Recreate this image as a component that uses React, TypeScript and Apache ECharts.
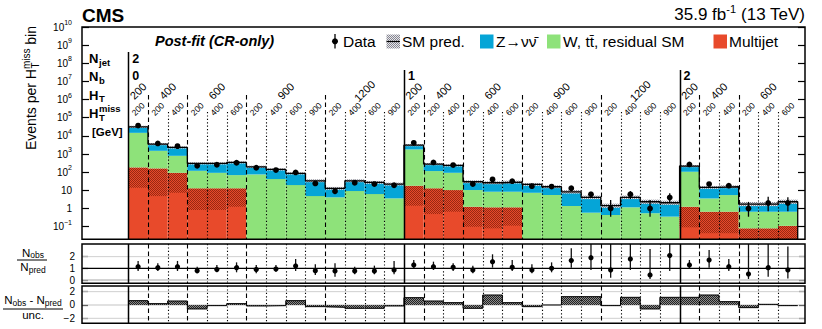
import { useEffect, useRef } from 'react';
import * as echarts from 'echarts';

const FONT = '"Liberation Sans", Arial, Helvetica, sans-serif';

// ---------- layout (pixels) ----------
const PLOT_L = 82, PLOT_R = 805;
const MAIN_T = 27, MAIN_B = 239.3;
const RAT_T = 244, RAT_B = 283.3;
const PULL_T = 286, PULL_B = 323.3;

// ---------- axis ranges ----------
const X_MIN = -2.35, X_MAX = 34.37;
const LOG_MIN = -1.7, LOG_MAX = 10;
const R_MIN = -0.28, R_MAX = 3.08;
const P_MIN = -2.75, P_MAX = 2.85;

const C_MJ = '#e84a2b', C_W = '#8ee27a', C_Z = '#05a5d7';

// ---------- categories ----------
const njetLabels = ['2'];
const njetStartBin = [0];
const nbLabels = ['0', '1', '2'];
const nbStartBin = [0, 14, 28];
const htLabels = ['200', '400', '600', '900', '1200', '200', '400', '600', '900', '1200', '200', '400', '600'];
const htStartBin = [0, 1, 3, 6, 10, 14, 15, 17, 20, 24, 28, 29, 31];
const htEndBin = [1, 3, 6, 10, 14, 15, 17, 20, 24, 28, 29, 31, 34];
const mhtLabels = [
  '200', '200', '400', '200', '400', '600', '200', '400', '600', '900', '200', '400', '600', '900',
  '200', '200', '400', '200', '400', '600', '200', '400', '600', '900', '200', '400', '600', '900',
  '200', '200', '400', '200', '400', '600',
];
const mainTickLog = [-1, 0, 1, 2, 3, 4, 5, 6, 7, 8, 9, 10];
const ratioTicks = [0, 1, 2];
const pullTicks = [-2, 0, 2];

// ---------- series values ----------
const multijet = [183, 161, 92, 12.8, 12.8, 12.8, 0.005, 0.005, 0.005, 0.005, 0.005, 0.005, 0.005, 0.005,
  17.8, 12.8, 10.3, 1.24, 1.15, 1.15, 0.005, 0.005, 0.005, 0.005, 0.005, 0.005, 0.005, 0.005,
  1.24, 0.66, 0.66, 0.08, 0.08, 0.11];
const multijetBandLow = [13.8, 4.8, 7.3, 0.82, 0.82, 1.24, 0.005, 0.005, 0.005, 0.005, 0.005, 0.005, 0.005, 0.005,
  1.41, 0.49, 0.66, 0.098, 0.08, 0.112, 0.005, 0.005, 0.005, 0.005, 0.005, 0.005, 0.005, 0.005,
  0.091, 0.043, 0.043, 0.01, 0.01, 0.01];
const residualSM = [14500, 1340, 704, 106, 79, 56, 75, 41.6, 19.4, 4.8, 4.1, 9.1, 6.2, 3.6,
  1770, 102, 82, 9.1, 7.2, 7.2, 7.3, 5.5, 1.36, 0.58, 0.43, 1.15, 0.54, 0.35,
  104, 2.9, 4.8, 0.58, 0.58, 0.55];
const zinv = [16700, 2010, 1510, 185, 212, 276, 123, 100, 66, 28.7, 8.7, 24.4, 21.2, 18.4,
  1300, 163, 144, 19.2, 17.7, 20.1, 13.9, 10.2, 6.9, 3.5, 0.98, 2.95, 1.8, 1.71,
  111, 10.9, 10.2, 1.09, 1.09, 1.68];
const predUnc = [0.15, 0.15, 0.15, 0.15, 0.15, 0.15, 0.15, 0.15, 0.15, 0.2, 0.2, 0.2, 0.2, 0.2,
  0.15, 0.15, 0.15, 0.2, 0.2, 0.2, 0.2, 0.2, 0.25, 0.25, 0.3, 0.25, 0.3, 0.3,
  0.15, 0.2, 0.2, 0.3, 0.3, 0.3];
const dataObs = [37000, 3830, 2720, 224, 255, 328, 174, 130, 97, 24, 9, 26, 22, 19,
  4130, 345, 245, 22, 40, 32, 17, 16, 13, 6, 1, 6, 1, 4,
  268, 22, 18, 1, 2, 2];
const dataErrUp = [190, 62, 52, 16, 17, 19, 14, 12, 11, 6, 4, 6, 6, 5,
  64, 19, 17, 6, 7, 7, 5, 5, 4, 2.3, 1.9, 3, 1.9, 2.8,
  17, 6, 5, 1.3, 2.4, 2.1];
const dataErrDown = [190, 62, 52, 15, 16, 18, 13, 11, 10, 5, 3, 5, 5, 4,
  64, 18, 16, 5, 6, 6, 4, 4, 3.5, 1.9, 0.65, 2.7, 0.65, 1.7,
  16, 5, 4, 0.65, 1.3, 1.3];
const ratio = [1.14, 1.06, 1.14, 0.8, 0.91, 1.06, 0.91, 0.94, 1.2, 0.8, 0.77, 0.77, 0.77, 0.86,
  1.29, 1.14, 1.09, 0.86, 1.57, 1.09, 0.86, 1.0, 1.66, 1.91, 0.86, 1.8, 0.43, 2.09,
  1.29, 1.71, 1.14, 0.51, 1.06, 0.86];
const ratioHi = [1.63, 1.43, 1.63, 1.14, 1.29, 1.51, 1.29, 1.29, 1.8, 1.34, 1.43, 1.14, 1.23, 1.63,
  1.71, 1.57, 1.43, 1.23, 2.2, 1.71, 1.34, 1.51, 2.71, 3.2, 3.2, 3.2, 2.66, 3.2,
  1.71, 2.57, 1.8, 3.2, 3.2, 2.86];
const ratioLo = [0.77, 0.77, 0.77, 0.57, 0.66, 0.66, 0.57, 0.71, 0.77, 0.43, 0.29, 0.49, 0.49, 0.49,
  1.0, 0.86, 0.77, 0.57, 1.06, 0.77, 0.57, 0.66, 1.06, 0.86, 0.2, 0.86, 0.09, 0.77,
  1.0, 1.06, 0.77, 0.09, 0.29, 0.14];
const pull = [0.65, 0.2, 0.6, -0.6, -0.1, 0.2, -0.15, -0.1, 0.65, -0.25, -0.35, -0.5, -0.5, -0.15,
  1.1, 0.6, 0.35, -0.5, 1.5, 0.35, -0.25, 0.0, 1.25, 1.25, -0.1, 1.15, -0.6, 1.15,
  1.15, 1.5, 0.5, -0.4, 0.1, -0.1];

function checker(c1: string, c2: string | null): any {
  const cv = document.createElement('canvas');
  cv.width = 2; cv.height = 2;
  const ctx = cv.getContext('2d')!;
  ctx.clearRect(0, 0, 2, 2);
  if (c2) { ctx.fillStyle = c2; ctx.fillRect(0, 0, 2, 2); }
  ctx.fillStyle = c1;
  ctx.fillRect(0, 0, 1, 1);
  ctx.fillRect(1, 1, 1, 1);
  return { image: cv, repeat: 'repeat', imageWidth: 2, imageHeight: 2 };
}

const lg = (v: number) => Math.max(Math.log10(Math.max(v, 1e-12)), LOG_MIN);

function buildOption() {
  const smPat = checker('#858590', '#e6e6ea');
  const mjPat = checker('#9a2812', null);
  const pullPat = checker('#222222', '#8a8a8a');
  const nBins = multijet.length;
  const bins = multijet.map((_, k) => k);
  const totals = bins.map((k) => multijet[k] + residualSM[k] + zinv[k]);

  const sepData = bins.map((k) => [k, nbStartBin.includes(k) ? 0 : htStartBin.includes(k) ? 1 : 2]);
  const sepStyle = (t: number) => ({
    stroke: '#000',
    lineWidth: t === 0 ? 1.5 : 1.1,
    lineDash: t === 0 ? null : t === 1 ? [4.5, 3] : [1.2, 2.2],
  });
  const sepSeries = (g: number, top: (k: number, t: number) => number, bottom: number) => ({
    type: 'custom', xAxisIndex: g, yAxisIndex: g * 2, z: 4, silent: true,
    data: sepData,
    renderItem: (params: any, api: any) => {
      const k = api.value(0), t = api.value(1);
      const x = Math.round(api.coord([k, 0])[0]) + 0.5;
      return { type: 'line', shape: { x1: x, y1: top(k, t), x2: x, y2: bottom }, style: sepStyle(t) };
    },
  });

  const refLines = (g: number, vals: number[], styles: any[]) => ({
    type: 'custom', xAxisIndex: g, yAxisIndex: g * 2, z: 1, silent: true,
    data: vals.map((v) => [X_MIN, v]),
    renderItem: (params: any, api: any) => {
      const v = api.value(1);
      const p0 = api.coord([X_MIN, v]), p1 = api.coord([X_MAX, v]);
      return { type: 'line', shape: { x1: p0[0], y1: p0[1], x2: p1[0], y2: p1[1] }, style: styles[params.dataIndex] };
    },
  });

  const yLabelRich = {
    b: { fontSize: 10, lineHeight: 16, fontFamily: FONT, color: '#000' },
    s: { fontSize: 7, lineHeight: 8, verticalAlign: 'top', fontFamily: FONT, color: '#000' },
  };

  const xAxes = [0, 1, 2].map((g) => ({ type: 'value', gridIndex: g, min: X_MIN, max: X_MAX, show: false, axisLine: { onZero: false } }));
  const mkY = (g: number, pos: string, min: number, max: number, ticks: number[], fmt: any, showLabel: boolean, tickLen: number) => ({
    type: 'value', gridIndex: g, position: pos, min, max,
    axisLine: { show: false, onZero: false }, splitLine: { show: false },
    axisTick: { show: true, inside: true, length: tickLen, customValues: ticks, lineStyle: { color: '#000', width: 1.2 } },
    axisLabel: { show: showLabel, customValues: ticks, formatter: fmt, margin: 10, rich: yLabelRich, fontSize: 10, fontFamily: FONT, color: '#000' },
  });
  const mainFmt = (v: number) => {
    const n = Math.round(v);
    if (n === 0) return '{b|1}';
    if (n === 1) return '{b|10}';
    return '{b|10}{s|' + (n < 0 ? '\u2212' + -n : n) + '}';
  };
  const linFmt = (v: number) => '{b|' + (v < 0 ? '\u2212' + -v : v) + '}';
  const yAxes = [
    mkY(0, 'left', LOG_MIN, LOG_MAX, mainTickLog, mainFmt, true, 7),
    mkY(0, 'right', LOG_MIN, LOG_MAX, mainTickLog, mainFmt, false, 7),
    mkY(1, 'left', R_MIN, R_MAX, ratioTicks, linFmt, true, 6),
    mkY(1, 'right', R_MIN, R_MAX, ratioTicks, linFmt, false, 6),
    mkY(2, 'left', P_MIN, P_MAX, pullTicks, linFmt, true, 6),
    mkY(2, 'right', P_MIN, P_MAX, pullTicks, linFmt, false, 6),
  ];
  (yAxes[2] as any).axisLabel.margin = 7;
  (yAxes[4] as any).axisLabel.margin = 7;

  const series: any[] = [];

  // stacked histogram
  series.push({
    type: 'custom', xAxisIndex: 0, yAxisIndex: 0, z: 1, silent: true,
    data: bins.map((k) => [k, multijet[k], multijetBandLow[k], residualSM[k], zinv[k], predUnc[k]]),
    renderItem: (params: any, api: any) => {
      const k = api.value(0);
      const mj = api.value(1), mjLow = api.value(2), w = api.value(3), z = api.value(4), u = api.value(5);
      const x0 = api.coord([k, 0])[0], x1 = api.coord([k + 1, 0])[0];
      const Y = (v: number) => api.coord([k, lg(v)])[1];
      const yb = api.coord([k, LOG_MIN])[1];
      const c1 = mj, c2 = mj + w, c3 = mj + w + z;
      const y1 = Y(c1), y1l = Y(mjLow), y2 = Y(c2), y3 = Y(c3);
      const yu = Y(c3 * (1 + u)), yl = Y(c3 / (1 + u));
      const wd = x1 - x0;
      return {
        type: 'group',
        children: [
          { type: 'rect', shape: { x: x0, y: y1, width: wd, height: yb - y1 }, style: { fill: C_MJ } },
          { type: 'rect', shape: { x: x0, y: y1, width: wd, height: y1l - y1 }, style: { fill: mjPat } },
          { type: 'rect', shape: { x: x0, y: y2, width: wd, height: y1 - y2 }, style: { fill: C_W } },
          { type: 'rect', shape: { x: x0, y: y3, width: wd, height: y2 - y3 }, style: { fill: C_Z } },
          { type: 'rect', shape: { x: x0, y: yu, width: wd, height: yl - yu }, style: { fill: smPat } },
        ],
      };
    },
  });
  // total outline
  const outline = bins.map((k) => [k, lg(totals[k])]);
  outline.push([nBins, lg(totals[nBins - 1])]);
  outline.push([nBins, LOG_MIN]);
  series.push({
    type: 'line', xAxisIndex: 0, yAxisIndex: 0, z: 2, step: 'end', symbol: 'none', silent: true,
    data: outline, lineStyle: { color: '#000', width: 1.3 },
  });

  // separators
  series.push(sepSeries(0, (k, t) => (t === 0 ? (k === 0 ? 52 : 70) : t === 1 ? 95 : 112), MAIN_B));
  series.push(sepSeries(1, () => RAT_T, RAT_B));
  series.push(sepSeries(2, () => PULL_T, PULL_B));

  // HT labels
  series.push({
    type: 'custom', xAxisIndex: 0, yAxisIndex: 0, z: 5, silent: true,
    data: htLabels.map((_, i) => [htStartBin[i], htEndBin[i]]),
    renderItem: (params: any, api: any) => {
      const xa = api.coord([api.value(0), 0])[0], xb = api.coord([api.value(1), 0])[0];
      return {
        type: 'text', x: (xa + xb) / 2, y: 91, rotation: Math.PI / 4,
        style: { text: htLabels[params.dataIndex], fontSize: 11, fontFamily: FONT, fill: '#000', align: 'center', verticalAlign: 'middle' },
      };
    },
  });
  // MHT labels
  series.push({
    type: 'custom', xAxisIndex: 0, yAxisIndex: 0, z: 5, silent: true,
    data: bins.map((k) => [k]),
    renderItem: (params: any, api: any) => {
      const k = api.value(0);
      const x = (api.coord([k, 0])[0] + api.coord([k + 1, 0])[0]) / 2;
      return {
        type: 'text', x, y: 109, rotation: Math.PI / 4,
        style: { text: mhtLabels[params.dataIndex], fontSize: 8.5, fontFamily: FONT, fill: '#000', align: 'center', verticalAlign: 'middle' },
      };
    },
  });
  // Njet / Nb values
  series.push({
    type: 'custom', xAxisIndex: 0, yAxisIndex: 0, z: 5, silent: true,
    data: [...njetStartBin.map((k, i) => [k, 0, i]), ...nbStartBin.map((k, i) => [k, 1, i])],
    renderItem: (params: any, api: any) => {
      const k = api.value(0), row = api.value(1), i = api.value(2);
      const x = api.coord([k, 0])[0] + 4;
      return {
        type: 'text', x, y: row === 0 ? 59 : 76,
        style: { text: row === 0 ? njetLabels[i] : nbLabels[i], fontSize: 12.5, fontWeight: 'bold', fontFamily: FONT, fill: '#000', align: 'left', verticalAlign: 'middle' },
      };
    },
  });

  // data points (main)
  series.push({
    type: 'custom', xAxisIndex: 0, yAxisIndex: 0, z: 6, silent: true,
    data: bins.map((k) => [k, dataObs[k], dataErrUp[k], dataErrDown[k]]),
    renderItem: (params: any, api: any) => {
      const k = api.value(0), d = api.value(1), up = api.value(2), dn = api.value(3);
      const x = api.coord([k + 0.5, 0])[0];
      const y = api.coord([k, lg(d)])[1];
      const yh = api.coord([k, lg(d + up)])[1];
      const yl = api.coord([k, lg(Math.max(d - dn, 1e-6))])[1];
      return {
        type: 'group',
        children: [
          { type: 'line', shape: { x1: x, y1: yh, x2: x, y2: yl }, style: { stroke: '#000', lineWidth: 1.3 } },
          { type: 'circle', shape: { cx: x, cy: y, r: 2.9 }, style: { fill: '#000' } },
        ],
      };
    },
  });

  // ratio panel
  series.push(refLines(1, [0, 2, 1], [
    { stroke: '#c4c4c4', lineWidth: 1.6 },
    { stroke: '#d0d0d0', lineWidth: 1 },
    { stroke: '#000', lineWidth: 1.2 },
  ]));
  series.push({
    type: 'custom', xAxisIndex: 1, yAxisIndex: 2, z: 6, silent: true,
    data: bins.map((k) => [k, ratio[k], ratioHi[k], ratioLo[k]]),
    renderItem: (params: any, api: any) => {
      const k = api.value(0);
      const x = api.coord([k + 0.5, 0])[0];
      const y = api.coord([k, api.value(1)])[1];
      const yh = api.coord([k, Math.min(api.value(2), R_MAX)])[1];
      const yl = api.coord([k, Math.max(api.value(3), R_MIN)])[1];
      return {
        type: 'group',
        children: [
          { type: 'line', shape: { x1: x, y1: yh, x2: x, y2: yl }, style: { stroke: '#111', lineWidth: 1.3 } },
          { type: 'circle', shape: { cx: x, cy: y, r: 2.6 }, style: { fill: '#000' } },
        ],
      };
    },
  });

  // pull panel
  series.push(refLines(2, [-2, 0, 2], [
    { stroke: '#cfcfcf', lineWidth: 1 },
    { stroke: '#c4c4c4', lineWidth: 1.2 },
    { stroke: '#cfcfcf', lineWidth: 1 },
  ]));
  series.push({
    type: 'custom', xAxisIndex: 2, yAxisIndex: 4, z: 2, silent: true,
    data: bins.map((k) => [k, pull[k]]),
    renderItem: (params: any, api: any) => {
      const k = api.value(0), p = api.value(1);
      const x0 = api.coord([k, 0])[0], x1 = api.coord([k + 1, 0])[0];
      const y0 = api.coord([k, 0])[1], yp = api.coord([k, p])[1];
      return {
        type: 'rect', shape: { x: x0, y: Math.min(y0, yp), width: x1 - x0, height: Math.abs(y0 - yp) },
        style: { fill: pullPat },
      };
    },
  });
  const pullLine = bins.map((k) => [k, pull[k]]);
  pullLine.push([nBins, pull[nBins - 1]]);
  series.push({
    type: 'line', xAxisIndex: 2, yAxisIndex: 4, z: 3, step: 'end', symbol: 'none', silent: true,
    data: pullLine, lineStyle: { color: '#000', width: 1 },
  });

  // ---------- graphic: frames, titles, legend ----------
  const txt = (x: number, y: number, text: string, size: number, extra: any = {}) => ({
    type: 'text', x, y, z: 100,
    style: { text, fontSize: size, fontFamily: FONT, fill: '#000', verticalAlign: 'middle', align: 'left', ...extra },
  });
  const frame = (t: number, b: number) => ({
    type: 'rect', z: 100, shape: { x: PLOT_L, y: t, width: PLOT_R - PLOT_L, height: b - t },
    style: { fill: 'none', stroke: '#000', lineWidth: 1.5 },
  });
  const legendBox = (x: number, fill: any) => ({
    type: 'rect', z: 100, shape: { x, y: 34.5, width: 13.5, height: 14 }, style: { fill },
  });
  const bold = { fontWeight: 'bold' };

  const graphic: any[] = [
    frame(MAIN_T, MAIN_B), frame(RAT_T, RAT_B), frame(PULL_T, PULL_B),
    txt(82, 15, 'CMS', 19, bold),
    {
      type: 'text', x: 805, y: 14, z: 100,
      style: {
        text: '{a|35.9 fb}{s|-1}{a| (13 TeV)}', align: 'right', verticalAlign: 'middle',
        rich: {
          a: { fontSize: 17, lineHeight: 22, fontFamily: FONT, color: '#000' },
          s: { fontSize: 11, lineHeight: 12, verticalAlign: 'top', fontFamily: FONT, color: '#000' },
        },
      },
    },
    txt(155, 41, 'Post-fit (CR-only)', 14.5, { fontWeight: 'bold', fontStyle: 'italic' }),
    // legend
    { type: 'line', z: 100, shape: { x1: 335, y1: 34, x2: 335, y2: 48.5 }, style: { stroke: '#000', lineWidth: 1.3 } },
    { type: 'circle', z: 100, shape: { cx: 335, cy: 41.3, r: 3 }, style: { fill: '#000' } },
    txt(343, 41.5, 'Data', 15.5),
    legendBox(386.5, smPat),
    { type: 'line', z: 101, shape: { x1: 386.5, y1: 41.5, x2: 400, y2: 41.5 }, style: { stroke: '#000', lineWidth: 1.2 } },
    txt(402, 41.5, 'SM pred.', 15.5),
    legendBox(480, C_Z),
    txt(496, 41.5, 'Z\u2192\u03bd\u03bd\u0304', 15.5),
    legendBox(547, C_W),
    txt(563, 41.5, 'W, tt\u0304, residual SM', 15.5),
    legendBox(713.5, C_MJ),
    txt(729, 41.5, 'Multijet', 15.5),
    // left labels
    txt(89, 58.5, 'N', 13, bold), txt(99, 62, 'jet', 9.5, bold),
    txt(89, 76.5, 'N', 13, bold), txt(99, 80, 'b', 9.5, bold),
    txt(89, 95, 'H', 13, bold), txt(99, 98.5, 'T', 9.5, bold),
    txt(89, 113, 'H', 13, bold), txt(99, 108, 'miss', 9.5, bold), txt(99, 117.5, 'T', 9.5, bold),
    txt(92, 132, '[GeV]', 11.5, bold),
    // y title
    {
      type: 'group', x: 31, y: 88, rotation: Math.PI / 2, z: 100,
      children: [
        {
          type: 'text', x: 0, y: 0,
          style: {
            text: '{a|Events per H}{b|miss}{a| bin}', align: 'center', verticalAlign: 'middle',
            rich: {
              a: { fontSize: 14, lineHeight: 20, fontFamily: FONT, color: '#000' },
              b: { fontSize: 10, lineHeight: 10, verticalAlign: 'top', fontFamily: FONT, color: '#000' },
            },
          },
        },
        { type: 'text', x: 19.5, y: 4.5, style: { text: 'T', fontSize: 10, fontFamily: FONT, fill: '#000', align: 'left', verticalAlign: 'middle' } },
      ],
    },
    // ratio title
    {
      type: 'text', x: 33, y: 252.5, z: 100,
      style: {
        text: '{n|N}{s|obs}', align: 'center', verticalAlign: 'middle',
        rich: { n: { fontSize: 11.5, lineHeight: 14, fontFamily: FONT, color: '#000' }, s: { fontSize: 8.5, lineHeight: 8, verticalAlign: 'bottom', fontFamily: FONT, color: '#000' } },
      },
    },
    { type: 'line', z: 100, shape: { x1: 17, y1: 260, x2: 47, y2: 260 }, style: { stroke: '#000', lineWidth: 1 } },
    {
      type: 'text', x: 33, y: 267, z: 100,
      style: {
        text: '{n|N}{s|pred}', align: 'center', verticalAlign: 'middle',
        rich: { n: { fontSize: 11.5, lineHeight: 14, fontFamily: FONT, color: '#000' }, s: { fontSize: 8.5, lineHeight: 8, verticalAlign: 'bottom', fontFamily: FONT, color: '#000' } },
      },
    },
    // pull title
    {
      type: 'text', x: 33, y: 300, z: 100,
      style: {
        text: '{n|N}{s|obs}{n| - N}{s|pred}', align: 'center', verticalAlign: 'middle',
        rich: { n: { fontSize: 11.5, lineHeight: 14, fontFamily: FONT, color: '#000' }, s: { fontSize: 8.5, lineHeight: 8, verticalAlign: 'bottom', fontFamily: FONT, color: '#000' } },
      },
    },
    { type: 'line', z: 100, shape: { x1: 3, y1: 309, x2: 63, y2: 309 }, style: { stroke: '#000', lineWidth: 1 } },
    txt(33, 315, 'unc.', 11.5, { align: 'center' }),
  ];

  return {
    animation: false,
    backgroundColor: '#fff',
    textStyle: { fontFamily: FONT },
    grid: [
      { left: PLOT_L, top: MAIN_T, width: PLOT_R - PLOT_L, height: MAIN_B - MAIN_T },
      { left: PLOT_L, top: RAT_T, width: PLOT_R - PLOT_L, height: RAT_B - RAT_T },
      { left: PLOT_L, top: PULL_T, width: PLOT_R - PLOT_L, height: PULL_B - PULL_T },
    ],
    xAxis: xAxes,
    yAxis: yAxes,
    series,
    graphic,
  };
}

export default function App() {
  const ref = useRef<HTMLDivElement>(null);
  useEffect(() => {
    if (!ref.current) return;
    const chart = echarts.init(ref.current, null, { renderer: 'svg', width: 822, height: 329 });
    chart.setOption(buildOption() as any);
    return () => chart.dispose();
  }, []);
  return <div ref={ref} style={{ position: 'absolute', left: 0, top: 0, width: 822, height: 329, background: '#fff' }} />;
}
